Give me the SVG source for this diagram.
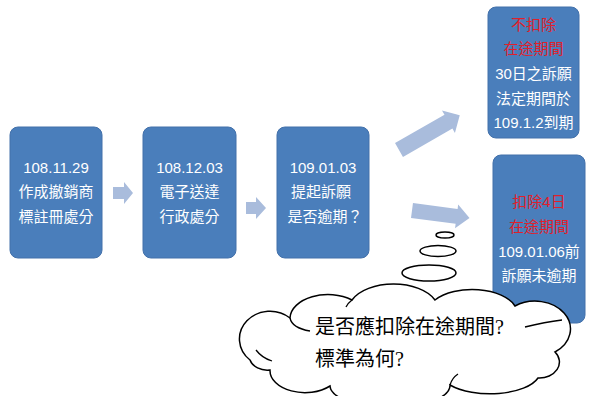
<svg xmlns="http://www.w3.org/2000/svg" width="598" height="396" viewBox="0 0 598 396">
<style>
.box{fill:#4a7ebb;stroke:#4270aa;stroke-width:1}
.t{font-family:"Liberation Sans","Noto Sans CJK TC",sans-serif;font-size:15px;fill:#ffffff;text-anchor:middle}
.r{fill:#e0202a}
.arr{fill:#a9bcdc}
.bub{fill:#ffffff;stroke:#000000;stroke-width:1.5}
.crease{fill:none;stroke:#000000;stroke-width:1.3}
.ct{font-family:"Liberation Serif","Noto Sans CJK TC",serif;font-size:20px;fill:#000000}
</style>
<g id="connectors">
<path class="arr" d="M113,187 L124,187 L124,182 L133,193 L124,204 L124,199 L113,199 Z"/>
<path class="arr" d="M246,202 L256,202 L256,197 L266,208 L256,219 L256,214 L246,214 Z"/>
<path class="arr" transform="translate(399,150) rotate(-29.8)" d="M0,-8 L57,-8 L57,-13 L70,0 L57,13 L57,8 L0,8 Z"/>
<path class="arr" transform="translate(412,210.5) rotate(7.5)" d="M0,-7.5 L45,-7.5 L45,-12 L58,0 L45,12 L45,7.5 L0,7.5 Z"/>
</g>
<g id="n1">
<rect class="box" x="10" y="127" width="92" height="131" rx="8"/>
<text class="t" x="56" y="173">108.11.29</text>
<text class="t" x="56" y="197">作成撤銷商</text>
<text class="t" x="56" y="222">標註冊處分</text>
</g>
<g id="n2">
<rect class="box" x="143" y="127" width="93" height="131" rx="8"/>
<text class="t" x="189.5" y="173">108.12.03</text>
<text class="t" x="189.5" y="197">電子送達</text>
<text class="t" x="189.5" y="222">行政處分</text>
</g>
<g id="n3">
<rect class="box" x="277" y="127" width="92" height="131" rx="8"/>
<text class="t" x="323" y="173">109.01.03</text>
<text class="t" x="321" y="197">提起訴願</text>
<text class="t" x="325" y="222">是否逾期？</text>
</g>
<g id="n4">
<rect class="box" x="488" y="7" width="91" height="131" rx="8"/>
<text class="t r" x="533.5" y="30">不扣除</text>
<text class="t r" x="533.5" y="54">在途期間</text>
<text class="t" x="533.5" y="79">30日之訴願</text>
<text class="t" x="533.5" y="104">法定期間於</text>
<text class="t" x="533.5" y="128">109.1.2到期</text>
</g>
<g id="n5">
<rect class="box" x="493" y="155" width="92" height="168" rx="8"/>
<text class="t r" x="539" y="207">扣除4日</text>
<text class="t r" x="539" y="232">在途期間</text>
<text class="t" x="539" y="257">109.01.06前</text>
<text class="t" x="539" y="281">訴願未逾期</text>
</g>
<g id="cloud">
<ellipse class="bub" cx="445" cy="235" rx="9" ry="3"/>
<ellipse class="bub" cx="438" cy="251" rx="18" ry="5.5"/>
<ellipse class="bub" cx="429" cy="273" rx="27" ry="8"/>
<path class="bub" d="M250,360 A22,20 0 0 1 290,318 A38,24 0 0 1 352,300 A45,26 0 0 1 435,300 A45,24 0 0 1 515,306 A28,22 0 0 1 555,352 A20,16 0 0 1 538,378 A50,22 0 0 1 450,385 A60,22 0 0 1 330,386 A35,22 0 0 1 270,370 A18,14 0 0 1 250,360 Z"/>
<path class="crease" d="M290,318 Q292,328 310,331"/>
<path class="crease" d="M256,350 Q262,358 272,361"/>
<path class="crease" d="M525,327 Q545,322 562,320"/>
<path class="crease" d="M450,385 Q452,378 458,374"/>
<path class="crease" d="M352,300 Q348,303 346,307"/>
<text class="ct" x="315" y="334">是否應扣除在途期間?</text>
<text class="ct" x="315" y="366">標準為何?</text>
</g>
</svg>
